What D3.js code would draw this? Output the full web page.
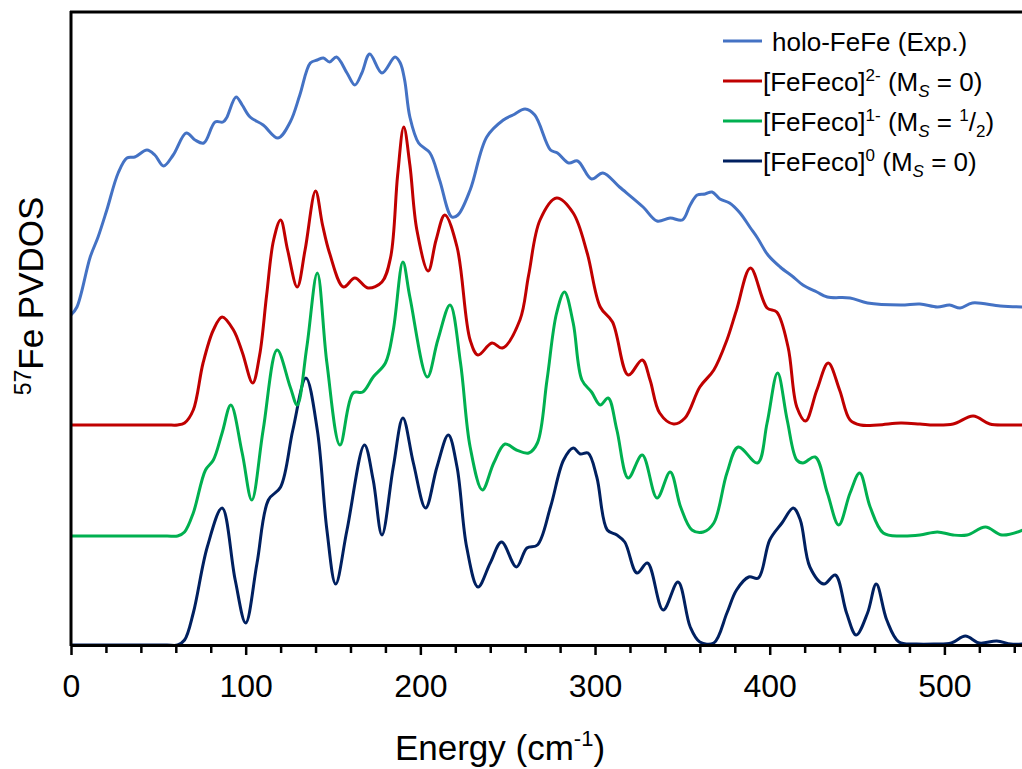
<!DOCTYPE html>
<html>
<head>
<meta charset="utf-8">
<script src="https://cdn.jsdelivr.net/npm/d3@7"></script>
<style>
    body { margin: 0; background: #fff; }
    svg { font-family: 'Liberation Sans', Arial, sans-serif; }
</style>
</head>
<body>
<svg id="chart" width="1022" height="769"></svg>
<script>
// energies (cm-1) and PVDOS values; red/green are drawn on offsets
const blueE = [0, 3.4, 11, 15.5, 20.5, 27, 32, 36.5, 43.5, 48, 53, 58.5, 66, 71, 76, 82.5, 87, 89, 94.5, 98,
    102.5, 110, 118.5, 125.5, 131, 137, 141, 144.5, 148, 152, 158, 162.5, 166.5, 171, 178, 185.5, 188.5, 191, 194, 199,
    205.5, 211, 218, 221.5, 228.5, 238, 247.5, 253, 260, 265.5, 274.5, 278.5, 285, 290, 298, 304.5, 314, 327.5, 335.5, 343,
    350, 354.5, 358.5, 363, 367, 371.5, 377, 383, 389, 393, 399, 406, 413.5, 419, 427, 433, 446, 456, 475, 486,
    496, 503, 509, 516, 532, 545];
const blueV = [3.30, 3.38, 3.88, 4.08, 4.35, 4.72, 4.87, 4.88, 4.95, 4.90, 4.79, 4.90, 5.12, 5.05, 5.02, 5.23, 5.23, 5.27, 5.48, 5.40,
    5.28, 5.20, 5.07, 5.23, 5.50, 5.82, 5.85, 5.87, 5.83, 5.88, 5.72, 5.60, 5.72, 5.91, 5.72, 5.88, 5.82, 5.65, 5.28, 5.02,
    4.92, 4.65, 4.28, 4.30, 4.55, 5.08, 5.25, 5.30, 5.36, 5.30, 4.95, 4.92, 4.82, 4.84, 4.66, 4.72, 4.58, 4.38, 4.24, 4.27,
    4.25, 4.40, 4.50, 4.51, 4.53, 4.46, 4.42, 4.32, 4.17, 4.07, 3.90, 3.78, 3.68, 3.60, 3.53, 3.48, 3.47, 3.42, 3.40, 3.41,
    3.38, 3.40, 3.37, 3.42, 3.39, 3.38];

const redE = [0, 20, 40, 55, 61, 65, 70, 75.6, 81.5, 86.5, 93, 98, 104, 108, 112, 116, 120, 124, 129.5, 134, 140, 144, 148,
    156, 162.5, 170, 178, 183, 187, 190.5, 194, 198, 204.5, 209, 214, 221, 228.5, 233, 241, 247, 257, 262, 268.5,
    278, 287.5, 295.5, 303, 310, 319, 327, 331.5, 337, 345, 351.5, 360, 368, 375.5, 381, 389, 398.5, 404, 410.5, 415.5,
    420.5, 427, 433.5, 440, 446, 452, 462, 475, 486, 494, 505, 516.5, 526, 535, 545];
const redV = [0, 0, 0, 0, 0, 0.02, 0.15, 0.62, 0.95, 1.08, 0.95, 0.73, 0.42, 0.70, 1.30, 1.85, 2.05, 1.75, 1.38, 1.75, 2.34, 2.00, 1.72,
    1.38, 1.47, 1.37, 1.43, 1.68, 2.50, 2.98, 2.60, 1.95, 1.54, 1.85, 2.10, 1.78, 0.85, 0.70, 0.82, 0.77, 1.05, 1.50, 2.05,
    2.27, 2.12, 1.72, 1.18, 1.03, 0.50, 0.65, 0.45, 0.12, 0.01, 0.07, 0.38, 0.55, 0.85, 1.15, 1.57, 1.17, 1.13, 0.78, 0.18,
    0.04, 0.35, 0.62, 0.35, 0.05, 0, 0, 0.02, 0.01, 0, 0.01, 0.09, 0.01, 0, 0];

const greenE = [0, 20, 40, 55, 61, 65, 70, 77, 81.5, 86.5, 91.5, 98, 103.5, 110, 118, 125.5, 129.5, 135, 141, 146.5, 154, 161.5, 167, 173,
    180, 184.5, 190, 194, 204, 210, 217, 223, 228.5, 235.5, 242, 248.5, 255, 262, 267, 272.5, 278, 282.5, 287.5, 292.5,
    298, 303, 307.5, 312.5, 319, 327, 335.5, 343, 349, 355.5, 362, 368, 375.5, 382, 393, 398.5, 404.5, 410, 415.5, 419,
    426, 433, 439.5, 446, 451.5, 457.5, 465, 475, 486, 496, 505, 513, 523.5, 533, 545];
const greenV = [0, 0, 0, 0, 0, 0.04, 0.23, 0.66, 0.76, 1.03, 1.31, 0.83, 0.36, 1.06, 1.86, 1.49, 1.31, 1.89, 2.63, 1.73, 0.91, 1.43, 1.44, 1.59,
    1.73, 2.06, 2.74, 2.39, 1.59, 1.96, 2.31, 1.73, 0.89, 0.46, 0.73, 0.92, 0.86, 0.83, 0.93, 1.56, 2.23, 2.44, 2.13, 1.56,
    1.44, 1.31, 1.38, 1.06, 0.58, 0.81, 0.38, 0.64, 0.29, 0.06, 0.04, 0.13, 0.63, 0.89, 0.73, 1.13, 1.63, 1.16, 0.76, 0.73,
    0.79, 0.43, 0.11, 0.43, 0.63, 0.29, 0.03, 0, 0.01, 0.04, 0.01, 0.01, 0.09, 0.01, 0.06];

const navyE = [0, 20, 40, 55, 61, 65, 70, 78, 86.5, 94, 100, 106.5, 113, 120, 127, 134.5, 141, 146.5, 151.5, 158, 168, 173, 178, 184.5,
    190, 196, 203, 209.5, 216, 221, 226.5, 233, 240, 246.5, 255, 261, 267, 274.5, 282, 287.5, 291.5, 296, 301, 307,
    312.5, 317, 324, 330, 339, 347.5, 354.5, 360, 368, 375.5, 381, 388, 393.5, 400, 407, 413.5, 417.5, 423, 431, 437.5,
    444, 449.5, 456, 461, 467, 474, 484, 494, 504, 512, 520, 530, 538, 545];
const navyV = [0, 0, 0, 0, 0, 0.05, 0.32, 0.98, 1.37, 0.65, 0.22, 0.82, 1.45, 1.58, 2.15, 2.67, 2.15, 1.15, 0.61, 1.15, 2.00, 1.65, 1.10, 1.78,
    2.27, 1.82, 1.37, 1.78, 2.10, 1.78, 0.98, 0.58, 0.82, 1.03, 0.78, 0.97, 1.00, 1.38, 1.85, 1.97, 1.91, 1.92, 1.68, 1.15,
    1.10, 1.03, 0.72, 0.82, 0.35, 0.63, 0.18, 0.03, 0.02, 0.32, 0.55, 0.68, 0.67, 1.05, 1.22, 1.37, 1.25, 0.78, 0.61, 0.70,
    0.32, 0.10, 0.32, 0.61, 0.25, 0.03, 0.01, 0.01, 0.02, 0.09, 0.02, 0.04, 0.01, 0.01];

const seriesNames = ['holo-FeFe (Exp.)', '[FeFeco]2- (MS = 0)', '[FeFeco]1- (MS = 1/2)', '[FeFeco]0 (MS = 0)'];
const seriesColors = ['#4472c4', '#c00000', '#00b050', '#002060'];
const seriesOffsets = [0, 2.2, 1.09, 0];
const xTicks = [0, 100, 200, 300, 400, 500];

function zip(a, b) {
    return a.map(function(e, i) { return [e, b[i]]; });
}

const svg = d3.select('#chart');
const x = d3.scaleLinear().domain([0, 545]).range([71, 1023]);
const y = d3.scaleLinear().domain([0, 6.33]).range([645, 12]);

const line = d3.line()
    .x(d => x(d[0]))
    .y(d => y(d[1]))
    .curve(d3.curveCatmullRom.alpha(0.5));

const allSeries = [zip(blueE, blueV), zip(redE, redV), zip(greenE, greenV), zip(navyE, navyV)];

// draw navy first so the experimental trace sits on top
[3, 2, 1, 0].forEach(i => {
    const off = seriesOffsets[i];
    svg.append('path')
        .datum(allSeries[i].map(d => [d[0], d[1] + off]))
        .attr('fill', 'none')
        .attr('stroke', seriesColors[i])
        .attr('stroke-width', 3)
        .attr('stroke-linejoin', 'round')
        .attr('d', line);
});

// minor ticks every 20
svg.append('g')
    .attr('transform', 'translate(0,645)')
    .call(d3.axisBottom(x).tickValues(d3.range(20, 545, 20).filter(v => v % 100 !== 0)).tickSize(8).tickFormat(''))
    .call(g => g.select('.domain').remove())
    .call(g => g.selectAll('line').attr('stroke', '#000').attr('stroke-width', 2.5));

const xAxis = svg.append('g')
    .attr('transform', 'translate(0,645)')
    .call(d3.axisBottom(x).tickValues(xTicks).tickSize(10).tickSizeOuter(0).tickPadding(19));
xAxis.select('.domain').attr('stroke-width', 3);
xAxis.selectAll('line').attr('stroke-width', 2.5);
xAxis.selectAll('text')
    .attr('font-family', "'Liberation Sans', Arial, sans-serif")
    .attr('font-size', 32)
    .attr('fill', '#000');

// frame: left axis and top edge
svg.append('line').attr('x1', 71).attr('x2', 71).attr('y1', 11).attr('y2', 646)
    .attr('stroke', '#000').attr('stroke-width', 3);
svg.append('line').attr('x1', 70).attr('x2', 1022).attr('y1', 12).attr('y2', 12)
    .attr('stroke', '#000').attr('stroke-width', 3);

// axis titles
const yTitle = svg.append('text')
    .attr('transform', 'translate(43,296) rotate(-90)')
    .attr('text-anchor', 'middle')
    .attr('font-size', 35);
yTitle.append('tspan').attr('font-size', 23).attr('dy', -12).text('57');
yTitle.append('tspan').attr('dy', 12).text('Fe PVDOS');

const xTitle = svg.append('text')
    .attr('x', 500).attr('y', 760)
    .attr('text-anchor', 'middle')
    .attr('font-size', 35);
xTitle.append('tspan').text('Energy (cm');
xTitle.append('tspan').attr('font-size', 22).attr('dy', -14).text('-1');
xTitle.append('tspan').attr('dy', 14).text(')');

// legend
const legendY = [41, 81, 121, 161];
const leg = svg.append('g').attr('font-size', 26);
seriesColors.forEach((c, i) => {
    leg.append('line')
        .attr('x1', 723).attr('x2', 762)
        .attr('y1', legendY[i]).attr('y2', legendY[i])
        .attr('stroke', c).attr('stroke-width', 3);
});

const l0 = leg.append('text').attr('x', 772).attr('y', legendY[0] + 9.5);
l0.text(seriesNames[0]);

[1, 2, 3].forEach(i => {
    const t = leg.append('text').attr('x', 763).attr('y', legendY[i] + 9.5);
    const charge = i === 1 ? '2-' : (i === 2 ? '1-' : '0');
    t.append('tspan').text('[FeFeco]');
    t.append('tspan').attr('font-size', 17).attr('dy', -10).text(charge);
    t.append('tspan').attr('dy', 10).text(' (M');
    t.append('tspan').attr('font-size', 17).attr('font-style', 'italic').attr('dy', 6).text('S');
    if (i === 2) {
        t.append('tspan').attr('dy', -6).text(' = ');
        t.append('tspan').attr('font-size', 17).attr('dy', -10).text('1');
        t.append('tspan').attr('dy', 10).text('/');
        t.append('tspan').attr('font-size', 17).attr('dy', 6).text('2');
        t.append('tspan').attr('dy', -6).text(')');
    } else {
        t.append('tspan').attr('dy', -6).text(' = 0)');
    }
});
</script>
</body>
</html>
